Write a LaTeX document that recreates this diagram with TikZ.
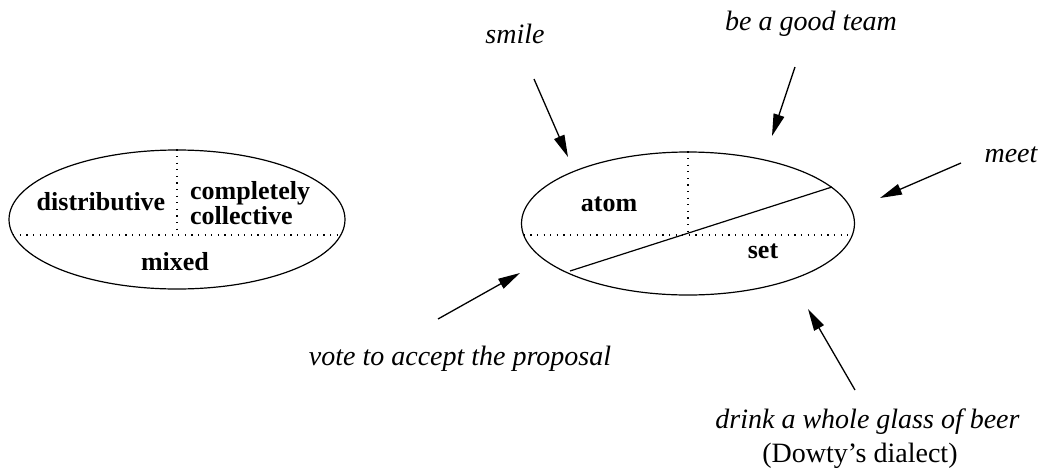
\documentclass[tikz,border=0pt]{standalone}
\usepackage{fontspec}
\setmainfont{Liberation Serif}[BoldFont={Liberation Serif Bold}, ItalicFont={Liberation Serif Italic}, BoldItalicFont={Liberation Serif Bold Italic}]
\usetikzlibrary{arrows.meta,shapes.geometric}
\begin{document}
\begin{tikzpicture}[x=1pt,y=-1pt,
  lab/.style={font=\fontsize{26}{20}\selectfont\bfseries, inner sep=0pt, anchor=base},
  verb/.style={font=\fontsize{28}{28}\selectfont\itshape, inner sep=0pt, anchor=base},
  note/.style={font=\fontsize{28}{28}\selectfont, inner sep=0pt, anchor=base},
  oval/.style={draw, ellipse, inner sep=0pt, line width=1.2pt},
  part/.style={line width=1.2pt, dash pattern=on 1.2pt off 5.4pt},
  cut/.style={line width=1.2pt},
  arr/.style={line width=1.3pt, -{Triangle[length=22pt,width=11pt]}}]
\useasboundingbox (0,0) rectangle (1042,469);

% left ellipse
\node[oval, minimum width=336pt, minimum height=139pt] (L) at (177,219.5) {};
\coordinate (Lh1) at (13.2,235);
\coordinate (Lh2) at (340.8,235);
\draw[part] (Lh1) -- (Lh2);
\draw[part] (L.north) -- (L.north |- Lh1);
\node[lab] (dist) at (101,210) {distributive};
\node[lab, anchor=west, align=left] (compl) at (190,203) {completely\\collective};
\node[lab] (mixed) at (175,270) {mixed};

% right ellipse
\node[oval, minimum width=333pt, minimum height=143pt] (R) at (688,223.5) {};
\coordinate (Rh1) at (523.7,235);
\coordinate (Rh2) at (852.3,235);
\draw[part] (Rh1) -- (Rh2);
\draw[part] (R.north) -- (R.north |- Rh1);
\coordinate (d1) at (570,271);
\coordinate (d2) at (832,187);
\draw[cut] (d1) -- (d2);
\node[lab] (atom) at (609,211) {atom};
\node[lab] (set) at (763,258) {set};

% verbs
\node[verb] (smile) at (515,43) {smile};
\node[verb] (team) at (811,30) {be a good team};
\node[verb] (meet) at (1011,162) {meet};
\node[verb] (vote) at (460,365) {vote to accept the proposal};
\node[verb] (drink) at (867.5,428) {drink a whole glass of beer};
\node[note] (dowty) at (860,462) {(Dowty's dialect)};

% arrows
\coordinate (s0) at (534,79);  \coordinate (s1) at (568,157);
\coordinate (t0) at (795,67);  \coordinate (t1) at (772,136);
\coordinate (m0) at (961,163); \coordinate (m1) at (880,198);
\coordinate (v0) at (438,319); \coordinate (v1) at (520,273);
\coordinate (k0) at (855,390); \coordinate (k1) at (808,309);
\draw[arr] (s0) -- (s1);
\draw[arr] (t0) -- (t1);
\draw[arr] (m0) -- (m1);
\draw[arr] (v0) -- (v1);
\draw[arr] (k0) -- (k1);
\end{tikzpicture}
\end{document}
